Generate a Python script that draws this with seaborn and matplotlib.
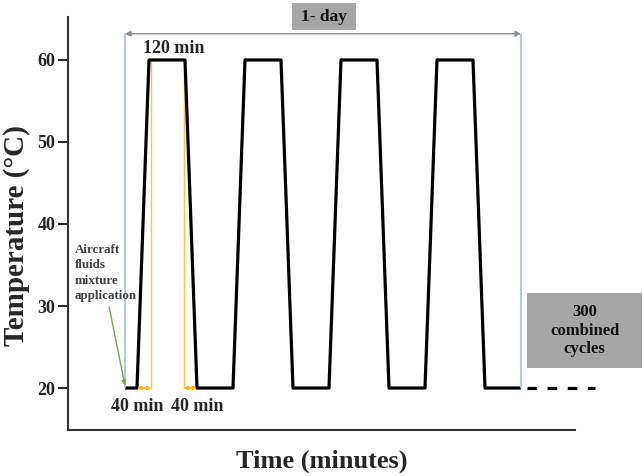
import matplotlib
matplotlib.use("Agg")
import matplotlib.pyplot as plt
import seaborn as sns
import pandas as pd
from matplotlib.patches import Rectangle

# ---- data (minutes, °C) ----
time_min = [0, 40, 80, 200, 240, 360, 400, 520, 560, 680, 720, 840, 880, 1000, 1040, 1160, 1200, 1320]
temp_c = [20, 20, 60, 60, 20, 20, 60, 60, 20, 20, 60, 60, 20, 20, 60, 60, 20, 20]
continuation_t = [1340, 1567]
continuation_temp = [20, 20]
y_ticks = [20, 30, 40, 50, 60]
day_start, day_end = 0, 1320
plateau_marks = [88, 196]
ramp_marks = [(40, 88), (196, 240)]

sns.set_theme(style="white")
plt.rcParams["font.family"] = ["Liberation Serif", "DejaVu Serif"]
plt.rcParams["font.weight"] = "bold"

fig = plt.figure(figsize=(6.44, 4.76), dpi=100)
ax = fig.add_axes([68 / 644, 1 - 430 / 476, (575 - 68) / 644, (430 - 17) / 476])

df = pd.DataFrame({"t": time_min, "T": temp_c})
sns.lineplot(data=df, x="t", y="T", sort=False, color="black", linewidth=2.3, ax=ax,
             solid_joinstyle="round", solid_capstyle="butt")
cont = pd.DataFrame({"t": continuation_t, "T": continuation_temp})
sns.lineplot(data=cont, x="t", y="T", sort=False, color="black", linewidth=2.3, ax=ax,
             dashes=False, linestyle=(0, (3.0, 3.3)))
for ln in ax.lines[-1:]:
    ln.set_clip_on(False)

ax.set_xlim(-190, 1500)
ax.set_ylim(14.88, 65.24)
ax.set_yticks(y_ticks)
ax.set_yticklabels([str(v) for v in y_ticks], fontsize=13, fontweight="bold")
ax.set_xticks([])
ax.tick_params(axis="y", direction="out", length=7, width=1.4, color="#222222", pad=2, left=True)
for s in ["top", "right"]:
    ax.spines[s].set_visible(False)
for s in ["left", "bottom"]:
    ax.spines[s].set_color("#333333")
    ax.spines[s].set_linewidth(1.5)

ax.set_xlabel("Time (minutes)", fontsize=19, fontweight="bold", labelpad=14)
ax.set_ylabel("Temperature (°C)", fontsize=21, fontweight="bold")
ax.yaxis.set_label_coords(-0.074, 0.47)

y_top = 63.2
# blue day-boundary lines
for xv in [day_start, day_end]:
    ax.plot([xv, xv], [20, y_top], color="#9dc3e6", linewidth=1.2, clip_on=False)
# 1-day double arrow
ax.annotate("", xy=(day_end, y_top), xytext=(day_start, y_top),
            arrowprops=dict(arrowstyle="<|-|>", color="#8c8c8c", lw=1.0,
                            mutation_scale=8, shrinkA=0, shrinkB=0),
            annotation_clip=False)
# 1-day box
ax.add_patch(Rectangle((557, 63.66), 213, 3.29, facecolor="#a6a6a6", edgecolor="none",
                       clip_on=False, zorder=3))
ax.text(663, 65.3, "1- day", ha="center", va="center", fontsize=12.5, fontweight="bold",
        color="#111111", zorder=4, clip_on=False)

# yellow plateau marks
for xv in plateau_marks:
    ax.plot([xv, xv], [20, 60], color="#f4c750", linewidth=1.0, zorder=1)
# orange ramp arrows
for a, b in ramp_marks:
    ax.annotate("", xy=(b, 20), xytext=(a, 20),
                arrowprops=dict(arrowstyle="<|-|>", color="#ffb000", lw=1.0,
                                mutation_scale=6, shrinkA=0, shrinkB=0))

ax.text(163, 61.4, "120 min", ha="center", va="center", fontsize=13, fontweight="bold")
ax.text(40, 17.7, "40 min", ha="center", va="center", fontsize=13, fontweight="bold")
ax.text(240, 17.7, "40 min", ha="center", va="center", fontsize=13, fontweight="bold")

ax.text(-167, 34.0, "Aircraft\nfluids\nmixture\napplication", ha="left", va="center",
        fontsize=9.4, fontweight="bold", color="#404040", linespacing=1.38)
ax.annotate("", xy=(0, 20.3), xytext=(-53, 29.9),
            arrowprops=dict(arrowstyle="-|>", color="#70ad47", lw=1.0,
                            mutation_scale=7, shrinkA=0, shrinkB=0))

# 300 combined cycles box
ax.add_patch(Rectangle((1340, 22.44), 383, 9.15, facecolor="#a6a6a6", edgecolor="none",
                       clip_on=False, zorder=3))
ax.text(1532, 27.0, "300\ncombined\ncycles", ha="center", va="center", fontsize=12,
        fontweight="bold", color="#111111", linespacing=1.2, zorder=4, clip_on=False)

fig.savefig("out.png", dpi=100)
